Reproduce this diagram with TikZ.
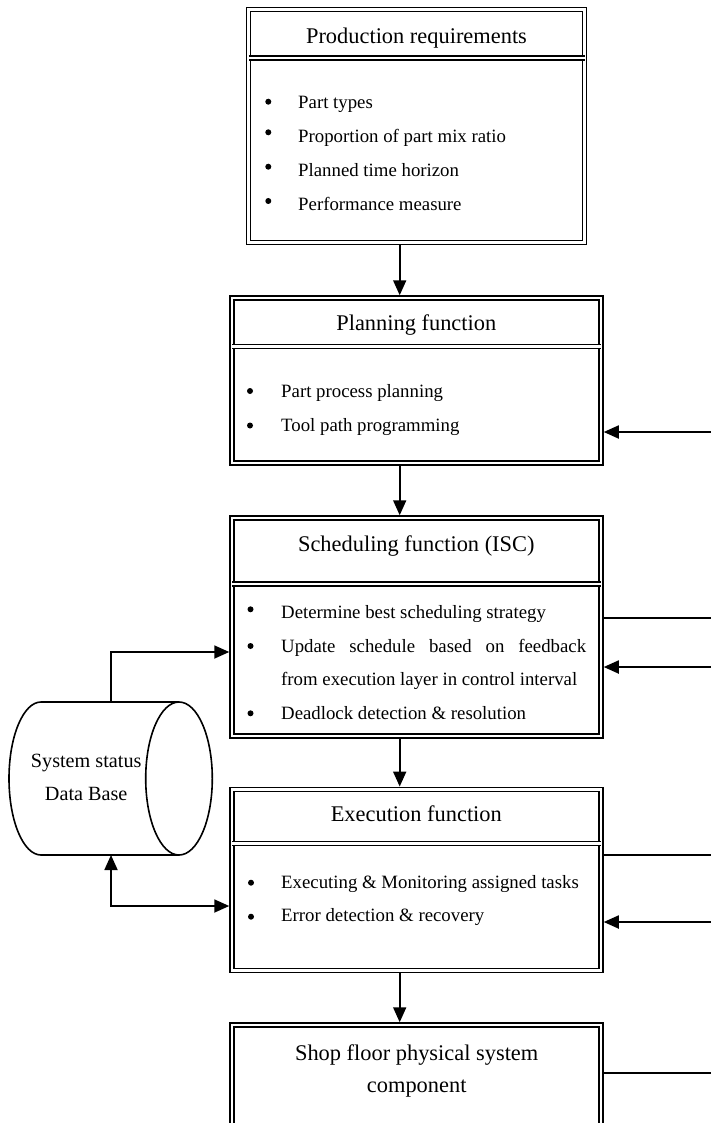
\documentclass[tikz,border=0pt]{standalone}
\usepackage{fontspec}
\setmainfont{Liberation Serif}
\usetikzlibrary{arrows.meta}
\begin{document}
\begin{tikzpicture}[x=1pt,y=-1pt,
 dbl/.style={draw, double, double distance=2.5pt, line width=1.5pt},
 box/.style={dbl, rectangle, inner sep=0pt, outer sep=2.75pt},
 ttl/.style={font=\fontsize{22.4}{27}\selectfont, anchor=base, inner sep=0pt},
 txt/.style={font=\fontsize{18.8}{22}\selectfont, anchor=base west, inner sep=0pt},
 cyltxt/.style={font=\fontsize{20.2}{24}\selectfont, anchor=base, inner sep=0pt},
 bul/.style={circle, fill, inner sep=0pt, minimum size=6pt},
 ln/.style={line width=1.8pt},
 cyl/.style={line width=1.6pt},
 arr/.style={ln, -{Triangle[length=15pt, width=13pt]}},
 darr/.style={ln, {Triangle[length=15pt, width=13pt]}-{Triangle[length=15pt, width=13pt]}}]
\useasboundingbox (0,0) rectangle (711,1123);
\clip (0,0) rectangle (711,1123);

% boxes
\node[box, minimum width=336pt, minimum height=233pt] (b1) at (416.5,126) {};
\node[box, minimum width=369pt, minimum height=165pt] (b2) at (416.5,380.5) {};
\node[box, minimum width=369pt, minimum height=218pt] (b3) at (416.5,627) {};
\node[box, minimum width=369pt, minimum height=181.4pt] (b4) at (416.5,880) {};
\node[box, minimum width=369pt, minimum height=140pt] (b5) at (416.5,1095) {};

% header separators
\draw[dbl] (248.5,58) -- (584.5,58);
\draw[dbl] (232,346.3) -- (601,346.3);
\draw[dbl] (232,584) -- (601,584);
\draw[dbl] (232,843.3) -- (601,843.3);

% titles
\node[ttl] (t1) at (416.5,43.3) {Production requirements};
\node[ttl] (t2) at (416.3,330) {Planning function};
\node[ttl] (t3) at (416.3,551.7) {Scheduling function (ISC)};
\node[ttl] (t4) at (416.3,821.7) {Execution function};
\node[ttl] (t5a) at (416.7,1060) {Shop floor physical system};
\node[ttl] (t5b) at (416.7,1092) {component};

% box 1 items
\node[bul] (p1) at (268.3,101.7) {};
\node[bul] (p2) at (268.3,132.3) {};
\node[bul] (p3) at (268.3,166.7) {};
\node[bul] (p4) at (268.3,201) {};
\node[txt] (q1) at (298,108.3) {Part types};
\node[txt] (q2) at (298,142.8) {Proportion of part mix ratio};
\node[txt] (q3) at (298,176.3) {Planned time horizon};
\node[txt] (q4) at (298,210.3) {Performance measure};

% box 2 items
\node[bul] (pp1) at (250,391) {};
\node[bul] (pp2) at (250,425.5) {};
\node[txt] (qq1) at (281,397.5) {Part process planning};
\node[txt] (qq2) at (281,431) {Tool path programming};

% box 3 items
\node[bul] (s1b) at (250.5,609.3) {};
\node[bul] (s2b) at (250.5,646) {};
\node[bul] (s4b) at (250.5,713.3) {};
\node[txt] (s1) at (281,618.3) {Determine best scheduling strategy};
\node[txt] (s2) at (281,652) {\makebox[305pt][s]{Update schedule based on feedback}};
\node[txt] (s3) at (281,685.6) {from execution layer in control interval};
\node[txt] (s4) at (281,719.2) {Deadlock detection \& resolution};

% box 4 items
\node[bul] (e1b) at (251,882.7) {};
\node[bul] (e2b) at (251,916.7) {};
\node[txt] (e1) at (281,888.3) {Executing \& Monitoring assigned tasks};
\node[txt] (e2) at (281,921.7) {Error detection \& recovery};

% database cylinder
\draw[cyl] (179,702) -- (41,702) arc[start angle=90, end angle=270, x radius=32pt, y radius=76.5pt] -- (179,855);
\draw[cyl] (179,778.5) ellipse [x radius=33.3pt, y radius=76.5pt];
\node[cyltxt] (db1) at (86.2,767) {System status};
\node[cyltxt] (db2) at (86.2,800.7) {Data Base};
\coordinate (dbt) at (111,702);
\coordinate (dbb) at (111,855);
\coordinate (k1) at (111,652);
\coordinate (k2) at (111,906);

% vertical arrows
\coordinate (ax) at (399.7,0);
\draw[arr] (b1.south -| ax) -- (b2.north -| ax);
\draw[arr] (b2.south -| ax) -- (b3.north -| ax);
\draw[arr] (b3.south -| ax) -- (b4.north -| ax);
\draw[arr] (b4.south -| ax) -- (b5.north -| ax);

% right side connectors
\coordinate (r2) at (711,432);
\coordinate (r3o) at (711,618);
\coordinate (r3i) at (711,667);
\coordinate (r4o) at (711,855);
\coordinate (r4i) at (711,922);
\coordinate (r5o) at (711,1073);
\draw[arr] (r2) -- (r2 -| b2.east);
\draw[ln] (b3.east |- r3o) -- (r3o);
\draw[arr] (r3i) -- (r3i -| b3.east);
\draw[ln] (b4.east |- r4o) -- (r4o);
\draw[arr] (r4i) -- (r4i -| b4.east);
\draw[ln] (b5.east |- r5o) -- (r5o);

% database connectors
\draw[arr] (dbt) -- (k1) -- (k1 -| b3.west);
\draw[darr] (dbb) -- (k2) -- (k2 -| b4.west);
\end{tikzpicture}
\end{document}
